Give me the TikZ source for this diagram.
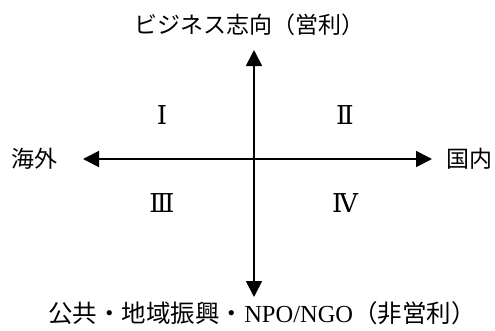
\documentclass[tikz,border=0pt]{standalone}
\usepackage{fontspec}
\setmainfont{Liberation Serif}
\newfontfamily\jp{Noto Sans CJK JP}
\newfontfamily\romanfont{DejaVu Serif}
\usetikzlibrary{arrows.meta}
\begin{document}
\begin{tikzpicture}[x=1pt,y=-1pt,
  axis/.style={line width=1.8pt,-{Triangle[length=16pt,width=16pt]}},
  lbl/.style={inner sep=0pt,font=\fontsize{23}{25}\selectfont},
  quad/.style={inner sep=0pt,font=\romanfont\fontsize{26}{28}\selectfont}]
\useasboundingbox (0,0) rectangle (495,330);
\coordinate (O) at (254,159);
\coordinate (T) at (254,50);
\coordinate (B) at (254,297);
\coordinate (L) at (83,159);
\coordinate (R) at (432,159);
\draw[axis] (O) -- (T);
\draw[axis] (O) -- (B);
\draw[axis] (O) -- (L);
\draw[axis] (O) -- (R);
\node[lbl] (top) at (249,25) {\jp ビジネス志向（営利）};
\node[lbl,font=\fontsize{24.5}{26}\selectfont] (bot) at (262,313) {\jp 公共・地域振興・\rmfamily NPO/NGO\jp（非営利）};
\node[lbl] (left) at (34,159) {\jp 海外};
\node[lbl] (right) at (469,159) {\jp 国内};
\node[quad] (q1) at (162,115) {Ⅰ};
\node[quad] (q2) at (345,115) {Ⅱ};
\node[quad] (q3) at (162,203) {Ⅲ};
\node[quad] (q4) at (345,203) {Ⅳ};
\end{tikzpicture}
\end{document}
